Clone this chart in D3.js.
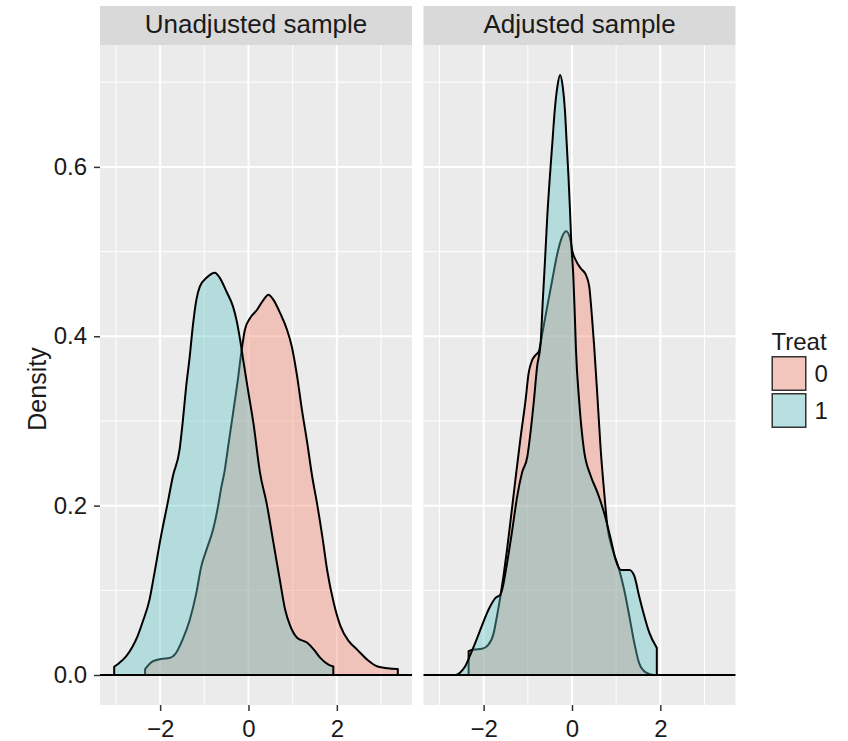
<!DOCTYPE html>
<html>
<head>
<meta charset="utf-8">
<script src="https://cdn.jsdelivr.net/npm/d3@7"></script>
<style>
  body { margin: 0; background: #fff; }
</style>
</head>
<body>
<script>
// facets + groups
const panels = ['Unadjusted sample', 'Adjusted sample']
const groups = ['0', '1']

// density estimates: [x, density]
const unadjusted0 = [
  [-2.34, 0.007], [-2.17, 0.016], [-1.98, 0.019], [-1.79, 0.020], [-1.64, 0.026], [-1.49, 0.042],
  [-1.33, 0.065], [-1.18, 0.097], [-1.07, 0.128], [-0.95, 0.148], [-0.80, 0.172], [-0.69, 0.199],
  [-0.61, 0.223], [-0.55, 0.238], [-0.46, 0.270], [-0.35, 0.309], [-0.23, 0.353], [-0.155, 0.384],
  [-0.08, 0.408], [0.03, 0.421], [0.19, 0.431], [0.34, 0.443], [0.45, 0.449], [0.565, 0.443],
  [0.72, 0.427], [0.87, 0.408], [0.98, 0.388], [1.10, 0.353], [1.21, 0.313], [1.33, 0.274],
  [1.44, 0.235], [1.55, 0.203], [1.67, 0.164], [1.78, 0.124], [1.93, 0.085], [2.08, 0.058],
  [2.27, 0.040], [2.46, 0.030], [2.69, 0.018], [2.92, 0.010], [3.15, 0.008], [3.38, 0.007]
]
const unadjusted1 = [
  [-3.04, 0.0097], [-2.93, 0.014], [-2.77, 0.022], [-2.62, 0.034], [-2.51, 0.046], [-2.40, 0.062],
  [-2.24, 0.089], [-2.13, 0.120], [-1.98, 0.164], [-1.83, 0.203], [-1.71, 0.235], [-1.56, 0.266],
  [-1.49, 0.298], [-1.41, 0.341], [-1.33, 0.376], [-1.26, 0.412], [-1.18, 0.443], [-1.10, 0.459],
  [-0.95, 0.469], [-0.76, 0.475], [-0.65, 0.469], [-0.50, 0.453], [-0.35, 0.435], [-0.27, 0.419],
  [-0.19, 0.396], [-0.12, 0.372], [0.0, 0.333], [0.11, 0.298], [0.26, 0.239], [0.41, 0.203],
  [0.565, 0.156], [0.72, 0.109], [0.83, 0.077], [0.945, 0.058], [1.10, 0.044], [1.33, 0.038],
  [1.48, 0.030], [1.63, 0.020], [1.82, 0.012], [1.92, 0.010]
]
const adjusted0 = [
  [-2.34, 0.028], [-2.23, 0.030], [-2.04, 0.031], [-1.89, 0.036], [-1.77, 0.050], [-1.70, 0.069],
  [-1.62, 0.093], [-1.55, 0.117], [-1.47, 0.148], [-1.38, 0.187], [-1.28, 0.231], [-1.17, 0.278],
  [-1.05, 0.325], [-0.98, 0.357], [-0.90, 0.372], [-0.82, 0.378], [-0.75, 0.382], [-0.67, 0.404],
  [-0.56, 0.435], [-0.445, 0.467], [-0.33, 0.498], [-0.22, 0.518], [-0.13, 0.524], [-0.045, 0.516],
  [0.01, 0.500], [0.084, 0.490], [0.20, 0.480], [0.31, 0.473], [0.39, 0.459], [0.44, 0.431],
  [0.50, 0.390], [0.58, 0.325], [0.65, 0.266], [0.73, 0.215], [0.80, 0.176], [0.92, 0.148],
  [1.07, 0.124], [1.18, 0.101], [1.30, 0.069], [1.41, 0.038], [1.52, 0.014], [1.67, 0.003],
  [1.85, 0.0], [3.38, 0.0]
]
const adjusted1 = [
  [-3.04, 0.0], [-2.64, 0.0], [-2.53, 0.003], [-2.42, 0.010], [-2.30, 0.024], [-2.19, 0.038],
  [-2.04, 0.058], [-1.89, 0.077], [-1.73, 0.091], [-1.62, 0.095], [-1.58, 0.101], [-1.47, 0.132],
  [-1.35, 0.172], [-1.24, 0.211], [-1.13, 0.239], [-1.01, 0.258], [-0.94, 0.286], [-0.86, 0.325],
  [-0.79, 0.364], [-0.71, 0.392], [-0.66, 0.443], [-0.61, 0.490], [-0.56, 0.541], [-0.50, 0.589],
  [-0.445, 0.628], [-0.39, 0.667], [-0.33, 0.695], [-0.27, 0.7085], [-0.21, 0.695], [-0.16, 0.667],
  [-0.12, 0.628], [-0.08, 0.589], [-0.045, 0.549], [-0.015, 0.510], [0.03, 0.471], [0.06, 0.431],
  [0.09, 0.384], [0.16, 0.325], [0.27, 0.266], [0.425, 0.235], [0.58, 0.215], [0.73, 0.191],
  [0.88, 0.160], [0.99, 0.136], [1.11, 0.124], [1.30, 0.124], [1.41, 0.117], [1.52, 0.093],
  [1.64, 0.069], [1.75, 0.050], [1.92, 0.032]
]

const xTicks = [-2, 0, 2]
const xMinor = [-3, -1, 1, 3]
const yTicks = [0, 0.2, 0.4, 0.6]
const yMinor = [0.1, 0.3, 0.5, 0.7]

const series = [[unadjusted0, unadjusted1], [adjusted0, adjusted1]]

// look
const fills = ['#F58570', '#64C5C5']
const fillOpacity = 0.4
const font = "'Liberation Sans', Arial, Helvetica, sans-serif"
const panelLeft = [100, 423.5]
const panelTop = 45
const panelW = 312
const panelH = 660
const stripH = 39

const svg = d3.select('body').append('svg')
  .attr('width', 848)
  .attr('height', 741)
  .style('font-family', font)

// shared scales (ggplot style 5% expansion)
const allPts = series.flat(2)
const xExt = d3.extent(allPts, d => d[0])
const xPad = (xExt[1] - xExt[0]) * 0.05
const yTop = d3.max(allPts, d => d[1])

const x = d3.scaleLinear()
  .domain([xExt[0] - xPad, xExt[1] + xPad])
  .range([0, panelW])
const y = d3.scaleLinear()
  .domain([-yTop * 0.05, yTop * 1.05])
  .range([panelH, 0])

const area = d3.area()
  .x(d => x(d[0]))
  .y0(y(0))
  .y1(d => y(d[1]))
  .curve(d3.curveMonotoneX)

panels.forEach((name, i) => {
  const g = svg.append('g')
    .attr('transform', `translate(${panelLeft[i]}, ${panelTop})`)

  g.append('rect')
    .attr('width', panelW)
    .attr('height', panelH)
    .attr('fill', '#EBEBEB')

  // grid
  g.selectAll('.vminor').data(xMinor).join('line')
    .attr('x1', d => x(d)).attr('x2', d => x(d))
    .attr('y1', 0).attr('y2', panelH)
    .attr('stroke', '#fff').attr('stroke-width', 1)
  g.selectAll('.hminor').data(yMinor).join('line')
    .attr('x1', 0).attr('x2', panelW)
    .attr('y1', d => y(d)).attr('y2', d => y(d))
    .attr('stroke', '#fff').attr('stroke-width', 1)
  g.selectAll('.vmajor').data(xTicks).join('line')
    .attr('x1', d => x(d)).attr('x2', d => x(d))
    .attr('y1', 0).attr('y2', panelH)
    .attr('stroke', '#fff').attr('stroke-width', 2)
  g.selectAll('.hmajor').data(yTicks).join('line')
    .attr('x1', 0).attr('x2', panelW)
    .attr('y1', d => y(d)).attr('y2', d => y(d))
    .attr('stroke', '#fff').attr('stroke-width', 2)

  // densities, group 0 first
  series[i].forEach((pts, k) => {
    g.append('path')
      .datum(pts)
      .attr('d', area)
      .attr('fill', fills[k])
      .attr('fill-opacity', fillOpacity)
      .attr('stroke', '#000')
      .attr('stroke-width', 2)
      .attr('stroke-linejoin', 'round')
  })

  g.append('line')
    .attr('x1', 0).attr('x2', panelW)
    .attr('y1', y(0)).attr('y2', y(0))
    .attr('stroke', '#000').attr('stroke-width', 2)

  // strip
  g.append('rect')
    .attr('y', -stripH)
    .attr('width', panelW)
    .attr('height', stripH)
    .attr('fill', '#D9D9D9')
  g.append('text')
    .attr('x', panelW / 2)
    .attr('y', -12)
    .attr('text-anchor', 'middle')
    .attr('font-size', 26)
    .attr('fill', '#1a1a1a')
    .text(name)

  // x axis
  const ax = g.append('g')
    .attr('transform', `translate(0, ${panelH})`)
    .call(d3.axisBottom(x).tickValues(xTicks).tickFormat(d3.format('d')).tickSize(6).tickPadding(9))
  ax.select('.domain').remove()
  ax.selectAll('line').attr('stroke', '#333').attr('stroke-width', 1.5)
  ax.selectAll('text').attr('font-size', 24).attr('font-family', font).attr('fill', '#1a1a1a')

  if (i === 0) {
    const ay = g.append('g')
      .call(d3.axisLeft(y).tickValues(yTicks).tickFormat(d3.format('.1f')).tickSize(6).tickPadding(7))
    ay.select('.domain').remove()
    ay.selectAll('line').attr('stroke', '#333').attr('stroke-width', 1.5)
    ay.selectAll('text').attr('font-size', 24).attr('font-family', font).attr('fill', '#1a1a1a')
  }
})

// y title
svg.append('text')
  .attr('transform', 'translate(45.5, 389) rotate(-90)')
  .attr('text-anchor', 'middle')
  .attr('font-size', 25)
  .attr('fill', '#1a1a1a')
  .text('Density')

// legend
const legend = svg.append('g').attr('transform', 'translate(771.5, 0)')
legend.append('text')
  .attr('x', 0).attr('y', 350)
  .attr('font-size', 24)
  .attr('fill', '#1a1a1a')
  .text('Treat')

const keys = legend.selectAll('g.key').data(groups).join('g')
  .attr('class', 'key')
  .attr('transform', (d, k) => `translate(0, ${356 + k * 37})`)
keys.append('rect')
  .attr('width', 35).attr('height', 35)
  .attr('fill', '#F2F2F2')
keys.append('rect')
  .attr('x', 0.75).attr('y', 0.75)
  .attr('width', 33.5).attr('height', 33.5)
  .attr('fill', (d, k) => fills[k])
  .attr('fill-opacity', fillOpacity)
  .attr('stroke', '#333')
  .attr('stroke-width', 1.5)
keys.append('text')
  .attr('x', 43).attr('y', 26)
  .attr('font-size', 24)
  .attr('fill', '#1a1a1a')
  .text(d => d)
</script>
</body>
</html>
